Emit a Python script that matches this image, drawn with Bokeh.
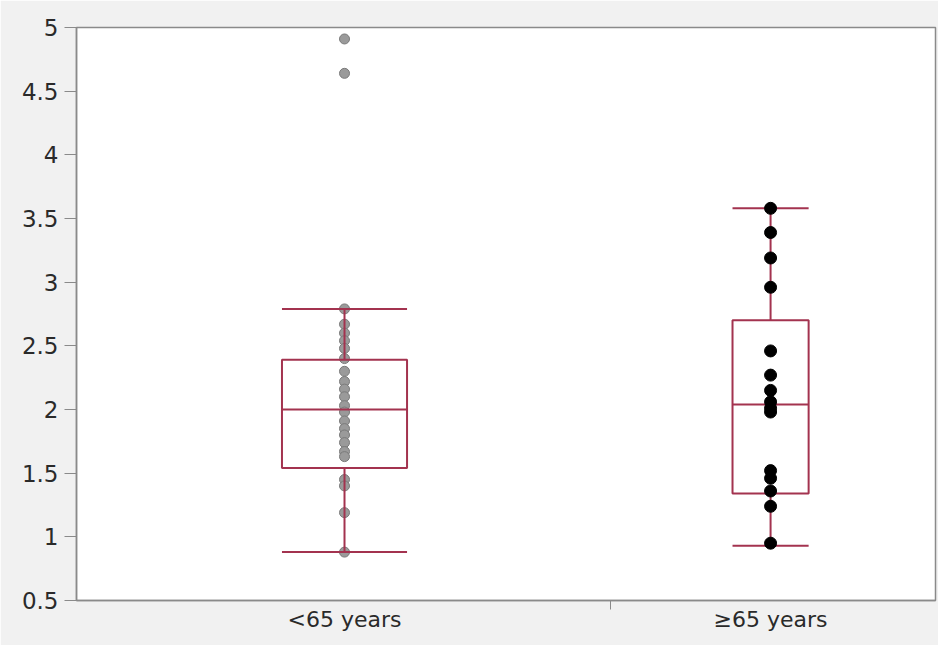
from bokeh.plotting import figure
from bokeh.models import FixedTicker, Range1d
from bokeh.embed import file_html
from bokeh.resources import INLINE

# ---- data ----
groups = ["<65 years", "\u226565 years"]
young_values = [4.91, 4.64, 2.79, 2.67, 2.60, 2.54, 2.48, 2.40, 2.30, 2.22, 2.16, 2.10,
                2.03, 1.98, 1.91, 1.85, 1.80, 1.74, 1.67, 1.63, 1.45, 1.40, 1.19, 0.88]
old_values = [3.58, 3.39, 3.19, 2.96, 2.46, 2.27, 2.15, 2.06, 2.01, 1.98,
              1.52, 1.46, 1.36, 1.24, 0.95]
# box statistics per group: lower whisker, Q1, median, Q3, upper whisker
whisker_low = [0.88, 0.93]
q1 = [1.54, 1.34]
median = [2.00, 2.04]
q3 = [2.39, 2.70]
whisker_high = [2.79, 3.58]
y_ticks = [0.5, 1, 1.5, 2, 2.5, 3, 3.5, 4, 4.5, 5]

# ---- layout (x positions on a 0..1 axis, widths proportional to group size) ----
centers = [0.312, 0.808]
divider = 0.622
half_w = [0.0728, 0.0443]

box_color = "#a3334f"
axis_gray = "#8a8a8a"
font = "DejaVu Sans"

p = figure(width=938, height=645, output_backend="svg", toolbar_location=None,
           x_range=Range1d(0, 1), y_range=Range1d(0.5, 5),
           min_border_left=76, min_border_top=27, min_border_right=3, min_border_bottom=45)
p.border_fill_color = "#f1f1f1"
p.background_fill_color = "white"
p.outline_line_color = axis_gray
p.outline_line_width = 1.5
p.grid.visible = False

# left group points (under the box lines)
p.scatter([centers[0]] * len(young_values), young_values, size=10,
          fill_color="#9a9a9a", line_color="#7a7a7a", line_width=1)

# boxes and whiskers
for i in range(2):
    c = centers[i]
    w = half_w[i]
    p.segment(x0=[c], y0=[whisker_low[i]], x1=[c], y1=[q1[i]], line_color=box_color, line_width=2)
    p.segment(x0=[c], y0=[q3[i]], x1=[c], y1=[whisker_high[i]], line_color=box_color, line_width=2)
    p.segment(x0=[c - w, c - w], y0=[whisker_low[i], whisker_high[i]],
              x1=[c + w, c + w], y1=[whisker_low[i], whisker_high[i]],
              line_color=box_color, line_width=2)
    p.quad(left=[c - w], right=[c + w], bottom=[q1[i]], top=[q3[i]],
           fill_color=None, line_color=box_color, line_width=2)
    p.segment(x0=[c - w], y0=[median[i]], x1=[c + w], y1=[median[i]],
              line_color=box_color, line_width=2)

# right group points (over the box lines)
p.scatter([centers[1]] * len(old_values), old_values, size=12,
          fill_color="black", line_color="black")

# axes
p.xaxis.ticker = FixedTicker(ticks=centers, minor_ticks=[divider])
p.xaxis.major_label_overrides = {centers[0]: groups[0], centers[1]: groups[1]}
p.xaxis.major_tick_line_color = None
p.xaxis.major_tick_out = 0
p.xaxis.major_tick_in = 0
p.xaxis.minor_tick_line_color = axis_gray
p.xaxis.minor_tick_out = 9
p.xaxis.minor_tick_in = 0
p.xaxis.major_label_text_font = font
p.xaxis.major_label_text_font_size = "22px"
p.xaxis.major_label_text_color = "#2a2a2a"
p.xaxis.major_label_standoff = -3
p.xaxis.axis_line_color = axis_gray
p.xaxis.axis_line_width = 1.5

p.yaxis.ticker = FixedTicker(ticks=y_ticks)
p.yaxis.major_label_overrides = {t: ("%g" % t) for t in y_ticks}
p.yaxis.minor_tick_line_color = None
p.yaxis.major_tick_line_color = axis_gray
p.yaxis.major_tick_out = 12
p.yaxis.major_tick_in = 0
p.yaxis.major_label_text_font = font
p.yaxis.major_label_text_font_size = "23px"
p.yaxis.major_label_text_color = "#2a2a2a"
p.yaxis.major_label_standoff = 6
p.yaxis.axis_line_color = axis_gray
p.yaxis.axis_line_width = 1.5

open("out.html", "w").write(file_html(p, INLINE))
